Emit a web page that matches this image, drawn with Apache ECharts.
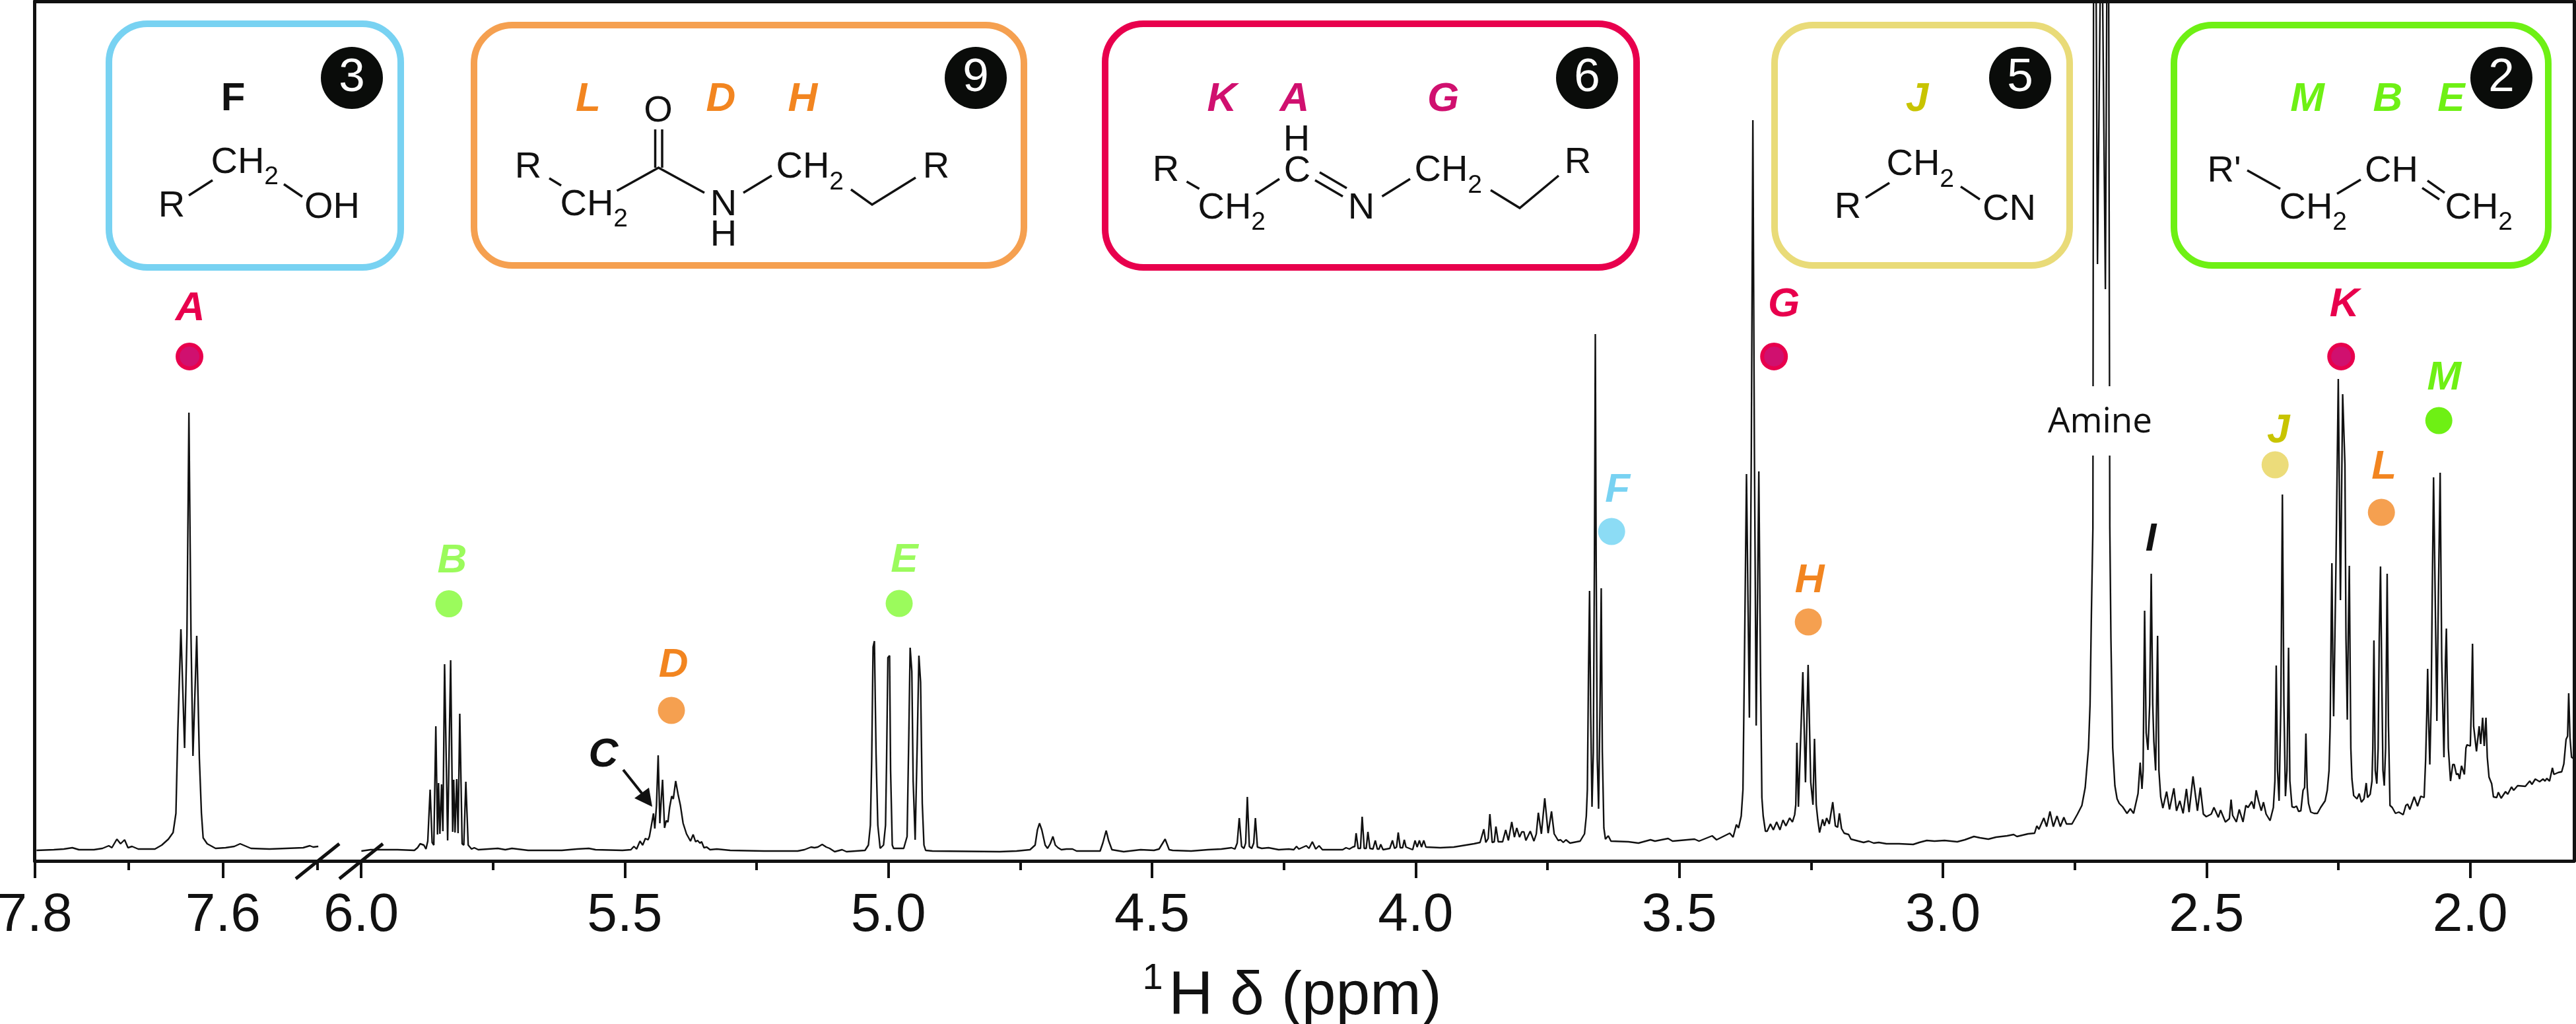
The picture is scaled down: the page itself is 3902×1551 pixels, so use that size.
<!DOCTYPE html>
<html>
<head>
<meta charset="utf-8">
<style>html,body{margin:0;padding:0;background:#fff}#c{width:3902px;height:1551px}</style>
<script src="https://cdn.jsdelivr.net/npm/echarts@6/dist/echarts.min.js"></script>
</head>
<body>
<div id="c"></div>
<script>
// 1H chemical shift (ppm) and signal height (arbitrary units)
const ppmHigh = [7.798,7.7796,7.769,7.760,7.753,7.737,7.728,7.7213,7.718,7.7127,7.7088,7.7045,7.7009,7.6966,7.690,7.6723,7.665,7.658,7.653,7.650,7.648,7.6447,7.6408,7.6383,7.6362,7.6340,7.6319,7.6279,7.6251,7.6229,7.6211,7.6168,7.6079,7.5972,7.588,7.5818,7.5703,7.5507,7.5328,7.5149,7.5078,7.5042,7.4988];
const intensityHigh = [16,17,18,20,17,17,19,23,20,33,26,32,20,22,18,18,24,33,43,72,196,351,171,342,679,342,159,341,155,72,35,26,19,20,22,26,19,18,19,20,23,21,22];

const ppmVinyl = [5.9995,5.982,5.931,5.899,5.893,5.888,5.881,5.877,5.8736,5.8691,5.8653,5.8621,5.8583,5.8551,5.8532,5.8506,5.8474,5.8449,5.8417,5.8359,5.8302,5.8263,5.8244,5.8219,5.8187,5.8161,5.8129,5.8084,5.8052,5.8014,5.7969,5.7905,5.7854,5.7778,5.7407,5.7266,5.7139,5.6832];
const intensityVinyl = [15,17,17,16,20,26,24,18,30,108,28,24,204,40,118,41,116,45,298,31,304,44,123,43,124,42,223,26,24,120,24,18,20,17,19,17,19,16];

const ppmMid1 = [5.6193,5.5906,5.5682,5.5554,5.5043,5.4883,5.4826,5.4775,5.4711,5.4660,5.4609,5.4558,5.4532,5.4494,5.4455,5.4430,5.4398,5.4366,5.4334,5.4309,5.4283,5.4245,5.4213,5.4181,5.4149,5.4110,5.4079,5.4034,5.3989,5.3944,5.3893,5.3829,5.3753,5.3702,5.3657,5.3619,5.3574,5.3542,5.3497,5.3446,5.3382,5.3254,5.3,5.2360,5.1721,5.1593,5.1466,5.1402,5.1338,5.1255,5.1178,5.1114,5.1018,5.0878,5.0795,5.0443,5.0379,5.0341,5.0316,5.0290,5.0265,5.0233,5.0200,5.0156,5.0092,5.0054,5.0035,5.0009,4.9977,4.9958,4.9926,4.9901,4.9709,4.9645,4.9613,4.9587,4.9555,4.9530,4.9492,4.9453,4.9421,4.9389,4.9357,4.9325,4.9293,4.9166,4.7888,4.7569,4.7313,4.7217,4.7173,4.7134,4.7090,4.7026,4.6981,4.6930,4.6879,4.6834];
const intensityMid1 = [16,18,19,17,16,17,22,18,30,24,34,32,37,54,72,49,84,160,57,91,123,50,61,59,81,98,94,121,101,84,57,41,30,40,29,31,27,29,20,21,17,18,16,15,15,17,21,20,21,25,21,19,14,17,14,16,24,54,154,324,333,161,54,19,24,54,147,308,311,137,24,19,19,37,187,323,287,121,32,177,311,271,87,24,16,15,14,15,17,24,47,57,47,24,19,26,37,24];

const ppmMid2 = [4.6782,4.6719,4.6623,4.6508,4.6431,4.5984,4.5933,4.5869,4.5824,4.5760,4.5537,4.5217,4.4962,4.4866,4.4751,4.4674,4.4610,4.4259,4.3940,4.3684,4.3492,4.3428,4.3384,4.3345,4.3301,4.3256,4.3224,4.3192,4.3154,4.3109,4.3071,4.3039,4.3001,4.2918,4.2790,4.2598,4.2406,4.2311,4.2259,4.2215,4.2074,4.2023,4.1959,4.1895,4.1831,4.1768,4.1384,4.1320,4.1256,4.1193,4.1154,4.1129,4.1090,4.1046,4.1014,4.0975,4.0937,4.0905,4.0867,4.0809,4.0765,4.0726,4.0694,4.0662,4.0618,4.0490,4.0439,4.0400,4.0362,4.0330,4.0292,4.0247,4.0215,4.0183,4.0056,4.0011,3.9972,3.9928,3.9889,3.9845,3.9806,3.9532,3.9276,3.8893,3.8778,3.8746,3.8707,3.8669,3.8624,3.8592,3.8548,3.8509,3.8477,3.8433,3.8350,3.8292,3.8241,3.8177,3.8126,3.8082,3.8030,3.7986,3.7947,3.7909,3.7826,3.7756,3.7711,3.7673,3.7615,3.7551,3.7487,3.7423,3.7372,3.7296,3.7251,3.7200,3.7149,3.7072,3.6880,3.6797];
const intensityMid2 = [20,17,18,18,15,15,27,46,31,17,14,17,16,18,33,17,16,15,17,18,20,18,27,65,22,19,27,97,22,19,27,65,21,19,20,17,18,17,22,18,23,19,29,18,23,17,17,20,18,21,22,42,19,19,67,19,19,44,19,18,31,18,18,25,17,19,31,19,21,43,20,20,32,21,17,31,21,31,21,31,21,20,21,26,28,37,48,28,34,71,28,29,52,29,29,47,31,59,36,50,36,44,44,31,45,30,41,73,41,95,42,75,41,31,32,28,32,27,30,41];

const ppmImine = [3.6763,3.6743,3.6722,3.6701,3.6680,3.6655,3.6630,3.6609,3.6592,3.6576,3.6555,3.6530,3.6505,3.6480,3.6459,3.6430,3.6400,3.6346,3.6296,3.5962,3.5774,3.5545,3.5461,3.5211,3.5127,3.4710,3.4626,3.4376,3.4293,3.4042,3.3979,3.3917,3.3875,3.3825,3.3792,3.3767,3.3725,3.3670,3.3633,3.3604,3.3575,3.3541,3.3491,3.3458,3.3433,3.3408,3.3366,3.3333,3.3270,3.3216,3.3153,3.3090,3.3032,3.2978,3.2907,3.2853,3.2811,3.2790,3.2769,3.2740,3.2706,3.2656,3.2606,3.2556,3.2506,3.2464,3.2435,3.2402,3.2372,3.2339,3.2281,3.2247,3.2205,3.2155,3.2089,3.2039,3.1997,3.1963,3.1922,3.1872,3.1788];
const intensityImine = [68,108,280,409,223,82,165,452,798,452,154,79,223,413,165,50,33,38,30,29,27,32,30,34,30,33,30,38,32,42,36,55,50,68,108,280,586,217,624,1122,624,205,590,280,96,68,45,45,56,47,59,47,62,53,65,59,70,85,179,82,165,286,119,297,119,85,185,85,62,43,63,53,65,56,89,53,51,72,49,42,40];

const ppmAmine = [3.1744,3.1648,3.1504,3.1408,3.1312,3.1216,3.1072,3.0832,3.0563,3.0448,3.0304,3.0160,2.9968,2.9728,2.9584,2.9411,2.9295,2.9138,2.8992,2.8783,2.8658,2.8595,2.8386,2.8261,2.8219,2.8178,2.8086,2.8032,2.7969,2.7906,2.7835,2.7773,2.7706,2.7656,2.7552,2.7447,2.7364,2.7301,2.7238,2.7209,2.7184,2.7155,2.7143,2.7105,2.7068,2.6993,2.6918,2.6880,2.6855,2.6834,2.6813,2.6779,2.6738,2.6696,2.6654,2.6591];
const intensityAmine = [33,31,28,30,27,28,26,26,25,28,31,30,31,29,32,37,35,33,36,38,40,37,41,42,53,48,65,52,75,52,68,52,66,56,56,71,84,111,171,237,371,504,1300,1500,904,1500,866,1500,1300,504,337,171,114,94,87,82];

const ppmAliphatic1 = [2.6508,2.6445,2.6383,2.6341,2.6299,2.6258,2.6224,2.6203,2.6174,2.6145,2.6111,2.6078,2.6049,2.6020,2.5999,2.5965,2.5928,2.5903,2.5869,2.5828,2.5757,2.5702,2.5619,2.5569,2.5506,2.5444,2.5381,2.5331,2.5256,2.5172,2.5118,2.5060,2.5005,2.4910,2.4859,2.4776,2.4734,2.4642,2.4567,2.4534,2.4505,2.4434,2.4379,2.4308,2.4254,2.4212,2.4141,2.4100,2.4058,2.4016,2.3962,2.3920,2.3870,2.3795,2.3732,2.3703,2.3678,2.3653,2.3624,2.3590,2.3561,2.3532,2.3503,2.3474,2.3444,2.3419,2.3378,2.3336,2.3294,2.3253,2.3211,2.3169,2.3140,2.3115,2.3090,2.3065,2.3023];
const intensityAliphatic1 = [72,79,72,87,102,149,109,137,379,194,168,237,435,237,181,137,341,137,97,80,105,78,110,76,91,72,109,74,128,76,111,71,67,71,81,66,77,59,64,93,69,59,78,59,84,81,90,79,107,92,76,89,71,61,81,121,296,137,91,237,555,237,98,137,323,121,82,81,83,75,76,107,111,193,111,87,74];

const ppmAliphatic2 = [2.2960,2.2897,2.2835,2.2751,2.2710,2.2676,2.2655,2.2634,2.2622,2.2605,2.2589,2.2572,2.2547,2.2501,2.2460,2.2418,2.2375,2.2355,2.2330,2.2313,2.2292,2.2263,2.2242,2.2209,2.2146,2.2104,2.2063,2.2013,2.1971,2.1946,2.1896,2.1862,2.1846,2.1825,2.1800,2.1770,2.1745,2.1724,2.1700,2.1675,2.1654,2.1629,2.1603,2.1574,2.1549,2.1520,2.1478,2.1416,2.1353,2.1270,2.1220,2.1186,2.1144,2.1061,2.0998,2.0936,2.0873,2.0844,2.0823,2.0806,2.0790,2.0765,2.0740,2.0719,2.0694,2.0631,2.0602,2.0569,2.0539,2.0497,2.0468,2.0451,2.0435,2.0414,2.0372,2.0330,2.0301,2.0260,2.0226,2.0201,2.0164,2.0109,2.0080,2.0059,1.9997,1.9976,1.9955,1.9934,1.9880,1.9829,1.9800,1.9763,1.9733,1.9700,1.9675,1.9642,1.9592,1.9558,1.9496,1.9466,1.9412,1.9329,1.9287,1.9216,1.9174,1.9099,1.8953,1.8870,1.8828,1.8765,1.8682,1.8619,1.8578,1.8548,1.8494,1.8440,1.8411,1.8327,1.8264,1.8223,1.8181,1.8152,1.8131,1.8106,1.8077,1.8035];
const intensityAliphatic2 = [72,72,81,91,107,137,204,371,451,304,219,304,437,730,395,707,601,337,214,337,447,171,124,99,94,102,89,94,118,96,101,121,171,334,137,117,171,337,446,271,137,114,171,435,204,84,81,72,74,70,84,86,78,97,83,98,96,154,221,291,221,146,237,404,581,212,404,588,304,157,304,352,271,171,121,146,146,131,132,124,144,131,171,176,174,237,329,204,166,204,177,217,174,217,157,127,117,97,96,104,95,105,101,112,107,114,113,121,116,124,120,124,121,125,121,141,131,134,135,147,184,189,254,187,157,155];

const majorTicksHigh = [7.8, 7.6];
const minorTicksHigh = [7.7, 7.5];
const majorTicksLow = [6.0, 5.5, 5.0, 4.5, 4.0, 3.5, 3.0, 2.5, 2.0];
const minorTicksLow = [5.75, 5.25, 4.75, 4.25, 3.75, 3.25, 2.75, 2.25];

// Peak assignment markers: name, ppm, height
const markerNames = ['B', 'D', 'E', 'F', 'G', 'H', 'J', 'K', 'L', 'M'];
const markerPpm = [5.8335, 5.4115, 4.9795, 3.6283, 3.3203, 3.2552, 2.3699, 2.2447, 2.1683, 2.0594];
const markerHeights = [389.5, 228, 390, 499, 764, 362, 600, 764, 528, 667];
const markerHighNames = ['A'];
const markerHighPpm = [7.6356];
const markerHighHeights = [764];

const structureCounts = ['3', '9', '6', '5', '2'];

// ---- styles ----
const LINE = '#111111';
const ROSE = '#e8004d', MAG = '#d0106f', ORG = '#f28520', ORGD = '#f5a050', SKY = '#78d2f2', SKYD = '#8cdcf5';
const YEL = '#c8c400', YELD = '#ecdc7a', LIME = '#6ef014', LIMED = '#9bfb5c', BOXO = '#f5a050', BOXY = '#e9db78';
const FONT = '"Liberation Sans", Arial, sans-serif';
const markerStyle = {
  A: { dot: MAG, border: ROSE, text: ROSE, off: [1, -72] },
  B: { dot: LIMED, text: LIMED, off: [5, -65] },
  D: { dot: ORGD, text: ORG, off: [3, -68] },
  E: { dot: LIMED, text: LIMED, off: [8, -65] },
  F: { dot: SKYD, text: SKY, off: [9, -62] },
  G: { dot: MAG, border: ROSE, text: ROSE, off: [15, -78] },
  H: { dot: ORGD, text: ORG, off: [2, -62] },
  J: { dot: YELD, text: YEL, off: [5, -51] },
  K: { dot: MAG, border: ROSE, text: ROSE, off: [5, -78] },
  L: { dot: ORGD, text: ORG, off: [4, -68] },
  M: { dot: LIME, text: LIME, off: [8, -64] }
};

const zip = (a, b) => a.map((v, i) => [v, b[i]]);
const ppmLow = [].concat(ppmVinyl, ppmMid1, ppmMid2, ppmImine, ppmAmine, ppmAliphatic1, ppmAliphatic2);
const intensityLow = [].concat(intensityVinyl, intensityMid1, intensityMid2, intensityImine, intensityAmine, intensityAliphatic1, intensityAliphatic2);

const GRID_TOP = 2, GRID_H = 1302, LEFT_L = 52.5, LEFT_W = 494.5, RIGHT_L = 547, RIGHT_W = 3352;
const Y_MAX = 1302;

function mainAxis(gridIndex, min, max, ticks) {
  return {
    type: 'value', gridIndex, position: 'bottom', inverse: true, min, max, splitLine: { show: false },
    axisLine: { show: true, onZero: false, lineStyle: { color: LINE, width: 5 } },
    axisTick: { show: true, length: 26, customValues: ticks, lineStyle: { color: LINE, width: 4 } },
    axisLabel: { show: true, customValues: ticks, margin: 42, fontSize: 82, fontFamily: FONT, color: LINE,
      formatter: v => Number(v).toFixed(1), hideOverlap: false }
  };
}
function minorAxis(gridIndex, min, max, ticks) {
  return {
    type: 'value', gridIndex, position: 'bottom', inverse: true, min, max, splitLine: { show: false },
    axisLine: { show: false, onZero: false },
    axisTick: { show: true, length: 14, customValues: ticks, lineStyle: { color: LINE, width: 4 } },
    axisLabel: { show: false }
  };
}
function topAxis(gridIndex, min, max) {
  return {
    type: 'value', gridIndex, position: 'top', inverse: true, min, max, splitLine: { show: false },
    axisLine: { show: true, onZero: false, lineStyle: { color: LINE, width: 5 } },
    axisTick: { show: false }, axisLabel: { show: false }
  };
}
function valueAxis(gridIndex, position) {
  return {
    type: 'value', gridIndex, position, min: 0, max: Y_MAX, splitLine: { show: false },
    axisLine: { show: true, onZero: false, lineStyle: { color: LINE, width: 5 } },
    axisTick: { show: false }, axisLabel: { show: false }
  };
}
function markers(names, ppm, heights, xAxisIndex, yAxisIndex) {
  return {
    type: 'scatter', xAxisIndex, yAxisIndex, symbol: 'circle', symbolSize: 41, z: 6, silent: true,
    data: names.map((n, i) => {
      const s = markerStyle[n];
      return {
        name: n, value: [ppm[i], heights[i]],
        symbolSize: s.border ? 36 : 41,
        itemStyle: { opacity: 1, color: s.dot, borderColor: s.border || s.dot, borderWidth: s.border ? 6 : 0 },
        label: { show: true, position: 'inside', offset: s.off, formatter: '{b}', color: s.text, opacity: 1,
          fontSize: 62, fontWeight: 'bold', fontStyle: 'italic', fontFamily: FONT }
      };
    })
  };
}

// ---- annotation drawing helpers ----
const gfx = [];
function T(text, cx, cy, size, fill, extra) {
  const y = cy + 2;
  gfx.push({ type: 'text', z: 20, silent: true, style: {
    text, x: cx, y, fill: fill || LINE, font: (extra && extra.fw ? extra.fw + ' ' : '') + size + 'px ' + FONT,
    textAlign: 'center', textVerticalAlign: 'middle', align: 'center', verticalAlign: 'middle'
  } });
}
function L(pts, w) {
  gfx.push({ type: 'polyline', z: 20, silent: true, shape: { points: pts },
    style: { stroke: LINE, lineWidth: w || 3.5, fill: 'none', lineCap: 'butt', lineJoin: 'miter' } });
}
function CH2(leftX, capCy) {
  T('CH', leftX + 39, capCy, 56);
  T('2', leftX + 90, capCy + 22, 39);
}
function box(x0, y0, x1, y1, color) {
  gfx.push({ type: 'rect', z: 15, silent: true, shape: { x: x0 + 5, y: y0 + 5, width: x1 - x0 - 10, height: y1 - y0 - 10, r: 58 },
    style: { fill: 'none', stroke: color, lineWidth: 10 } });
}
function badge(cx, txt) {
  gfx.push({ type: 'circle', z: 18, silent: true, shape: { cx, cy: 118, r: 47 }, style: { fill: '#0a0c0a' } });
  T(txt, cx, 116, 71, '#ffffff');
}
function tag(txt, cx, color) {
  gfx.push({ type: 'text', z: 20, silent: true, style: { text: txt, x: cx, y: 151, fill: color,
    font: 'italic bold 62px ' + FONT, textAlign: 'center', textVerticalAlign: 'middle', align: 'center', verticalAlign: 'middle' } });
}

// structure boxes
box(160, 31, 612, 410, SKY);
box(713, 33, 1556, 407, BOXO);
box(1669, 31, 2484, 410, ROSE);
box(2683, 33, 3140, 407, BOXY);
box(3288, 33, 3865, 407, LIME);
[533, 1478, 2404, 3060, 3789].forEach((cx, i) => badge(cx, structureCounts[i]));

// alcohol
T('F', 353, 148.5, 60, LINE, { fw: 'bold' });
CH2(321, 244.5); T('R', 260, 311, 56); T('OH', 503, 313, 56);
L([[286, 296], [322, 273]]); L([[430, 279], [458, 298]]);

// amide
tag('L', 891, ORG); tag('D', 1092, ORG); tag('H', 1216, ORG);
T('O', 997, 167, 56);
L([[992.5, 196], [992.5, 254]]); L([[1003, 196], [1003, 254]]);
T('R', 800, 252, 56); L([[832, 270], [850, 281]]);
CH2(850, 308.5);
L([[934.5, 289], [997.5, 254], [1067, 292]]);
T('N', 1096, 308.5, 56); T('H', 1096, 355, 56);
L([[1126, 292], [1169, 266]]);
CH2(1177, 252);
L([[1289, 287], [1321, 310], [1387, 269]]);
T('R', 1418, 252, 56);

// imine
tag('K', 1851, MAG); tag('A', 1961, MAG); tag('G', 2186, MAG);
T('H', 1964, 210.5, 56); T('C', 1965, 258, 56);
T('R', 1766, 257, 56); L([[1797.5, 275], [1816.6, 286]]);
CH2(1816, 313.5);
L([[1903, 294], [1938, 271]]);
L([[1999, 261], [2040, 285]]); L([[1992, 273], [2034, 297.5]]);
T('N', 2062, 313.5, 56);
L([[2093.5, 297.5], [2136, 271]]);
CH2(2144, 257);
L([[2258, 288], [2302, 315], [2361, 266]]);
T('R', 2390, 244.5, 56);

// nitrile
tag('J', 2904, YEL);
CH2(2859, 248); T('R', 2799, 313, 56); T('CN', 3043.5, 316, 56);
L([[2826, 299.5], [2862, 277]]); L([[2970, 282.6], [2999, 302]]);

// alkene
tag('M', 3495, LIME); tag('B', 3617, LIME); tag('E', 3713, LIME);
T("R'", 3369, 258, 56);
L([[3404, 258], [3454, 286]]);
CH2(3454, 313.5);
L([[3540, 293.5], [3576, 272]]);
T('CH', 3622.5, 258, 56);
L([[3677, 273.6], [3703, 292]]); L([[3669, 284.6], [3695, 302]]);
CH2(3705, 313.5);

// axis break slashes
L([[448, 1331], [514, 1278]], 5); L([[514, 1331], [580, 1278]], 5);

// unassigned labels
gfx.push({ type: 'text', z: 20, silent: true, style: { text: 'C', x: 914, y: 1144, fill: LINE, font: 'italic bold 62px ' + FONT, textAlign: 'center', textVerticalAlign: 'middle', align: 'center', verticalAlign: 'middle' } });
gfx.push({ type: 'text', z: 20, silent: true, style: { text: 'I', x: 3258, y: 817, fill: LINE, font: 'italic bold 60px ' + FONT, textAlign: 'center', textVerticalAlign: 'middle', align: 'center', verticalAlign: 'middle' } });
L([[944, 1166], [975, 1205]], 4);
gfx.push({ type: 'polygon', z: 20, silent: true, shape: { points: [[988, 1222], [961, 1209], [983, 1193]] }, style: { fill: LINE } });

// amine label over a white gap in the clipped peak
gfx.push({ type: 'rect', z: 16, silent: true, shape: { x: 3160, y: 585, width: 45, height: 105 }, style: { fill: '#ffffff' } });
gfx.push({ type: 'text', z: 20, silent: true, style: { text: 'Amine', x: 3181, y: 640, fill: LINE, font: '53px "Open Sans", ' + FONT, textAlign: 'center', textVerticalAlign: 'middle', align: 'center', verticalAlign: 'middle' } });

// x-axis title
gfx.push({ type: 'text', z: 20, silent: true, style: { text: '1', x: 1746, y: 1483, fill: LINE, font: '56px ' + FONT, textAlign: 'center', textVerticalAlign: 'middle', align: 'center', verticalAlign: 'middle' } });
gfx.push({ type: 'text', z: 20, silent: true, style: { text: 'H δ (ppm)', x: 1977, y: 1510, fill: LINE, font: '93px ' + FONT, textAlign: 'center', textVerticalAlign: 'middle', align: 'center', verticalAlign: 'middle' } });

const MIN_H = 7.45335, MAX_H = 7.8, MIN_L = 1.803, MAX_L = 6.0;

const chart = echarts.init(document.getElementById('c'), null, { renderer: 'canvas' });
chart.setOption({
  animation: false,
  backgroundColor: '#ffffff',
  grid: [
    { left: LEFT_L, top: GRID_TOP, width: LEFT_W, height: GRID_H, outerBoundsMode: 'none' },
    { left: RIGHT_L, top: GRID_TOP, width: RIGHT_W, height: GRID_H, outerBoundsMode: 'none' }
  ],
  xAxis: [
    mainAxis(0, MIN_H, MAX_H, majorTicksHigh),
    minorAxis(0, MIN_H, MAX_H, minorTicksHigh),
    topAxis(0, MIN_H, MAX_H),
    mainAxis(1, MIN_L, MAX_L, majorTicksLow),
    minorAxis(1, MIN_L, MAX_L, minorTicksLow),
    topAxis(1, MIN_L, MAX_L)
  ],
  yAxis: [valueAxis(0, 'left'), valueAxis(1, 'right')],
  series: [
    { type: 'line', xAxisIndex: 0, yAxisIndex: 0, showSymbol: false, symbol: 'none', clip: true, smooth: false, silent: true,
      lineStyle: { color: LINE, width: 2.4 }, data: zip(ppmHigh, intensityHigh) },
    { type: 'line', xAxisIndex: 3, yAxisIndex: 1, showSymbol: false, symbol: 'none', clip: true, smooth: false, silent: true,
      lineStyle: { color: LINE, width: 2.4 }, data: zip(ppmLow, intensityLow) },
    markers(markerHighNames, markerHighPpm, markerHighHeights, 0, 0),
    markers(markerNames, markerPpm, markerHeights, 3, 1)
  ],
  graphic: { elements: gfx }
});
</script>
</body>
</html>
